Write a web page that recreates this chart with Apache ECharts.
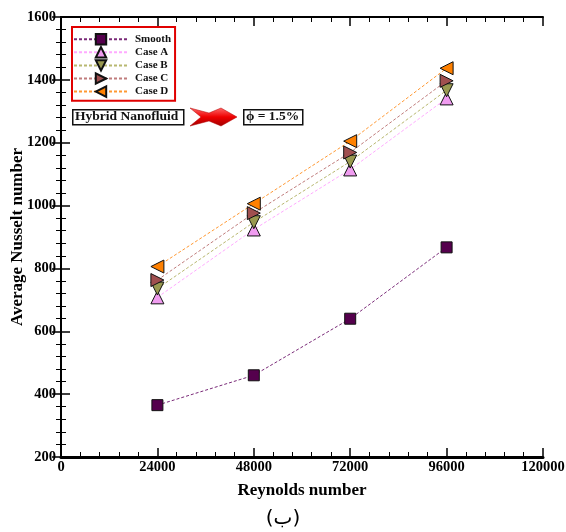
<!DOCTYPE html>
<html>
<head>
<meta charset="utf-8">
<script src="https://cdn.jsdelivr.net/npm/echarts@6/dist/echarts.min.js"></script>
<style>
html,body{margin:0;padding:0;background:#fff;}
#chart{width:566px;height:532px;}
</style>
</head>
<body>
<div id="chart"></div>
<script>
// Reynolds numbers (x) and average Nusselt numbers (y) for each surface case
const reynolds = [24000, 48000, 72000, 96000];
const smooth = [365, 460, 640, 867];
const caseA = [708, 924, 1115, 1341];
const caseB = [736, 947, 1140, 1367];
const caseC = [763, 976, 1169, 1397];
const caseD = [806, 1006, 1205, 1437];
const xTicks = [0, 24000, 48000, 72000, 96000, 120000];
const yTicks = [200, 400, 600, 800, 1000, 1200, 1400, 1600];

const serif = '"Liberation Serif", "DejaVu Serif", serif';
const chart = echarts.init(document.getElementById('chart'), null, { renderer: 'canvas' });

function pairs(ys) { return reynolds.map((x, i) => [x, ys[i]]); }

function lineSeries(name, ys, symbol, rotate, size, fill, lineColor) {
  return {
    name: name, type: 'line', data: pairs(ys),
    symbol: symbol, symbolRotate: rotate, symbolSize: size,
    showAllSymbol: true,
    itemStyle: { color: fill, borderColor: '#111', borderWidth: 1 },
    lineStyle: { color: lineColor, width: 1, type: [3, 2] },
    emphasis: { disabled: true },
    z: 3
  };
}

const axisCommon = {
  axisLine: { show: true, lineStyle: { color: '#000', width: 2 } },
  axisTick: { show: true, inside: true, length: 9, lineStyle: { color: '#000', width: 1.5 } },
  minorTick: { show: true, splitNumber: 5, length: 5, lineStyle: { color: '#000', width: 1 } },
  splitLine: { show: false }
};

const labelStyle = { fontFamily: serif, fontWeight: 'bold', fontSize: 14.5, color: '#000' };
const nameStyle = { fontFamily: serif, fontWeight: 'bold', fontSize: 17, color: '#000' };

const option = {
  animation: false,
  backgroundColor: '#fff',
  grid: { left: 61, right: 23, top: 17, bottom: 75, containLabel: false, outerBoundsMode: 'none' },
  legend: {
    left: 72, top: 27,
    orient: 'vertical',
    itemWidth: 54, itemHeight: 13, itemGap: 0.7,
    padding: [6, 4, 3, 1],
    borderColor: '#e00000', borderWidth: 2,
    backgroundColor: '#fff',
    textStyle: { fontFamily: serif, fontWeight: 'bold', fontSize: 11, color: '#111', padding: [0, 0, 0, 2] },
    data: ['Smooth', 'Case A', 'Case B', 'Case C', 'Case D']
  },
  xAxis: [
    Object.assign({}, axisCommon, {
      type: 'value', min: xTicks[0], max: xTicks[xTicks.length - 1], interval: 24000,
      name: 'Reynolds number', nameLocation: 'middle', nameGap: 25, nameMoveOverlap: false,
      nameTextStyle: nameStyle,
      axisLabel: Object.assign({ margin: 3, formatter: v => String(v) }, labelStyle),
      axisLine: { show: true, lineStyle: { color: '#000', width: 3 } }
    }),
    Object.assign({}, axisCommon, {
      type: 'value', position: 'top', min: 0, max: 120000, interval: 24000,
      axisLabel: { show: false }
    })
  ],
  yAxis: [
    Object.assign({}, axisCommon, {
      type: 'value', min: yTicks[0], max: yTicks[yTicks.length - 1], interval: 200,
      axisLabel: Object.assign({ margin: 5, formatter: v => String(v) }, labelStyle)
    }),
    Object.assign({}, axisCommon, {
      type: 'value', position: 'right', min: 200, max: 1600, interval: 200,
      axisLabel: { show: false }
    })
  ],
  series: [
    lineSeries('Smooth', smooth, 'rect', 0, 11, '#55004d', '#7a2a78'),
    lineSeries('Case A', caseA, 'triangle', 0, 13, '#f09cf0', '#ffaaff'),
    lineSeries('Case B', caseB, 'triangle', 180, 13, '#999950', '#b8b870'),
    lineSeries('Case C', caseC, 'triangle', -90, 13, '#a04f4f', '#c07c7c'),
    lineSeries('Case D', caseD, 'triangle', 90, 13, '#ff8000', '#ff9933')
  ],
  graphic: [
    {
      // y-axis title, vertical
      type: 'text', x: 18, y: 237, rotation: Math.PI / 2, z: 11,
      style: {
        text: 'Average Nusselt number', font: 'bold 17px ' + serif, fill: '#000',
        align: 'center', verticalAlign: 'middle'
      }
    },
    {
      type: 'rect', left: 72, top: 109, z: 10,
      shape: { width: 111, height: 15 },
      style: { fill: '#fff', stroke: '#111', lineWidth: 1.5 }
    },
    {
      type: 'text', left: 75, top: 109.5, z: 11,
      style: { text: 'Hybrid Nanofluid', font: 'bold 13.5px ' + serif, fill: '#111' }
    },
    {
      // red fletched arrow
      type: 'polygon', z: 10,
      shape: { points: [[190, 108], [209, 113], [221, 108], [237, 117], [221, 126], [209, 121], [190, 126], [201, 117]] },
      style: {
        fill: new echarts.graphic.LinearGradient(0, 0, 0, 1, [
          { offset: 0, color: '#ff6a6a' }, { offset: 0.5, color: '#ee0000' }, { offset: 1, color: '#a00000' }
        ]),
        stroke: '#b00000', lineWidth: 0.5
      }
    },
    {
      type: 'rect', left: 243, top: 109, z: 10,
      shape: { width: 59, height: 15 },
      style: { fill: '#fff', stroke: '#111', lineWidth: 1.5 }
    },
    {
      type: 'text', left: 246, top: 109.5, z: 11,
      style: { text: 'ϕ = 1.5%', font: 'bold 13.5px ' + serif, fill: '#111' }
    },
    {
      type: 'text', left: 'center', top: 509, z: 11,
      style: { text: '(ب)', font: '20px "DejaVu Sans", "Noto Sans", sans-serif', fill: '#000' }
    }
  ]
};
chart.setOption(option);
</script>
</body>
</html>
